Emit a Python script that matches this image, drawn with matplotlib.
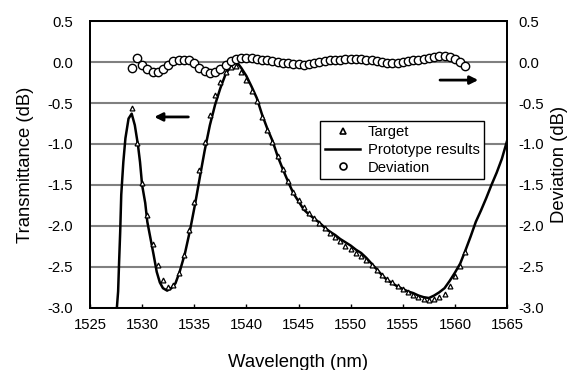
import matplotlib
matplotlib.use('Agg')
import matplotlib.pyplot as plt
from matplotlib.lines import Line2D

plt.rcParams['font.family'] = ['Liberation Sans', 'DejaVu Sans']

# Sampled wavelengths (nm) for target and deviation
wl = [1529.0 + 0.5 * i for i in range(65)]

target = [-0.56, -0.99, -1.48, -1.87, -2.22, -2.48, -2.66, -2.74, -2.72, -2.58,
          -2.36, -2.05, -1.71, -1.32, -0.98, -0.65, -0.40, -0.24, -0.12, -0.06,
          -0.05, -0.12, -0.22, -0.35, -0.48, -0.67, -0.83, -0.97, -1.15, -1.30,
          -1.45, -1.58, -1.68, -1.77, -1.84, -1.90, -1.96, -2.03, -2.09, -2.14,
          -2.19, -2.24, -2.28, -2.33, -2.37, -2.42, -2.48, -2.54, -2.60, -2.65,
          -2.69, -2.73, -2.77, -2.81, -2.84, -2.87, -2.89, -2.90, -2.89, -2.87,
          -2.83, -2.73, -2.61, -2.49, -2.32]

deviation = [-0.07, 0.05, -0.03, -0.09, -0.12, -0.12, -0.08, -0.03, 0.01, 0.03,
             0.03, 0.02, -0.01, -0.07, -0.11, -0.13, -0.12, -0.08, -0.03, 0.01,
             0.04, 0.05, 0.05, 0.05, 0.04, 0.03, 0.02, 0.01, 0.00, -0.01,
             -0.01, -0.02, -0.02, -0.03, -0.02, -0.01, 0.00, 0.01, 0.02, 0.03,
             0.03, 0.04, 0.04, 0.04, 0.04, 0.03, 0.02, 0.01, 0.00, -0.01,
             -0.01, -0.01, 0.00, 0.01, 0.02, 0.03, 0.04, 0.05, 0.06, 0.07,
             0.07, 0.06, 0.04, 0.00, -0.05]

# Prototype measured response
proto_x = [1527.55, 1527.7, 1527.8, 1527.9, 1528.0, 1528.2, 1528.4, 1528.7, 1529.0, 1529.3,
           1529.6, 1529.8, 1530.0, 1530.3, 1530.5, 1530.8, 1531.1, 1531.4, 1531.7, 1532.0,
           1532.4, 1532.8, 1533.2, 1533.6, 1534.1, 1534.6, 1535.1, 1535.6, 1536.0, 1536.5,
           1537.0, 1537.5, 1538.0, 1538.5, 1538.9, 1539.2, 1539.5, 1540.0, 1540.5, 1541.0,
           1541.5, 1542.0, 1542.5, 1543.0, 1543.5, 1544.0, 1544.5, 1545.0, 1545.5, 1546.0,
           1546.5, 1547.0, 1547.5, 1548.0, 1548.5, 1549.0, 1549.5, 1550.0, 1550.5, 1551.0,
           1551.5, 1552.0, 1552.5, 1553.0, 1553.5, 1554.0, 1554.5, 1555.0, 1555.5, 1556.0,
           1556.5, 1557.0, 1557.5, 1558.0, 1558.5, 1559.0, 1559.5, 1560.0, 1560.5, 1561.0,
           1561.5, 1562.0, 1562.5, 1563.0, 1563.5, 1564.0, 1564.5, 1565.0]
proto_y = [-3.05, -2.80, -2.42, -2.07, -1.62, -1.22, -0.93, -0.69, -0.63, -0.77,
           -1.01, -1.22, -1.50, -1.72, -1.95, -2.15, -2.35, -2.56, -2.69, -2.76,
           -2.79, -2.76, -2.70, -2.56, -2.34, -2.05, -1.72, -1.36, -1.08, -0.77,
           -0.52, -0.32, -0.15, -0.05, -0.01, -0.02, -0.07, -0.17, -0.30, -0.44,
           -0.64, -0.81, -0.96, -1.15, -1.31, -1.46, -1.60, -1.70, -1.80, -1.86,
           -1.91, -1.96, -2.02, -2.07, -2.11, -2.16, -2.20, -2.24, -2.29, -2.33,
           -2.39, -2.46, -2.53, -2.60, -2.66, -2.70, -2.74, -2.77, -2.80, -2.82,
           -2.85, -2.87, -2.88, -2.85, -2.81, -2.76, -2.67, -2.57, -2.46, -2.30,
           -2.13, -1.95, -1.81, -1.66, -1.50, -1.35, -1.18, -0.96]

fig = plt.figure(figsize=(5.73, 3.70), dpi=100)
ax = fig.add_axes([0.157, 0.168, 0.728, 0.775])
ax2 = ax.twinx()

ylim = (-3.0, 0.5)
yticks = [-3.0, -2.5, -2.0, -1.5, -1.0, -0.5, 0.0, 0.5]
for a in (ax, ax2):
    a.set_ylim(*ylim)
    a.set_yticks(yticks)
    a.set_yticklabels([f"{v:.1f}" for v in yticks])
    for s in a.spines.values():
        s.set_linewidth(1.3)

ax.set_xlim(1525, 1565)
ax.set_xticks(range(1525, 1570, 5))
ax.grid(axis='y', color='#808080', linewidth=1.5)
ax.set_axisbelow(True)

ax.tick_params(axis='x', direction='in', length=3, width=1, pad=7, labelsize=10.7)
ax.tick_params(axis='y', length=0, pad=12, labelsize=10.7)
ax2.tick_params(axis='y', length=0, pad=8, labelsize=10.7)

ax.plot(proto_x, proto_y, color='black', linewidth=1.8, zorder=3)
ax.plot(wl, target, linestyle='none', marker='^', markersize=3.5,
        markerfacecolor='white', markeredgecolor='black', markeredgewidth=0.9, zorder=4)
ax2.plot(wl, deviation, linestyle='none', marker='o', markersize=6,
         markerfacecolor='white', markeredgecolor='black', markeredgewidth=1.0, zorder=4)

# direction arrows
ax.annotate('', xy=(1530.9, -0.67), xytext=(1534.7, -0.67),
            arrowprops=dict(arrowstyle='-|>', color='black', lw=2, mutation_scale=12))
ax2.annotate('', xy=(1562.5, -0.22), xytext=(1558.3, -0.22),
             arrowprops=dict(arrowstyle='-|>', color='black', lw=2, mutation_scale=12))

ax.set_xlabel('Wavelength (nm)', fontsize=13.3, labelpad=16)
ax.set_ylabel('Transmittance (dB)', fontsize=13.3, labelpad=10)
ax2.set_ylabel('Deviation (dB)', fontsize=13.3, labelpad=5)

handles = [
    Line2D([], [], linestyle='none', marker='^', markersize=4, markerfacecolor='white',
           markeredgecolor='black', markeredgewidth=1.2),
    Line2D([], [], color='black', linewidth=1.8),
    Line2D([], [], linestyle='none', marker='o', markersize=5, markerfacecolor='white',
           markeredgecolor='black', markeredgewidth=1.2),
]
leg = ax2.legend(handles, ['Target', 'Prototype results', 'Deviation'],
                 loc='lower left', bbox_to_anchor=(0.552, 0.449, 0.393, 0.248),
                 mode='expand', fontsize=10.7, frameon=True, fancybox=False,
                 framealpha=1, edgecolor='black', borderaxespad=0,
                 handlelength=2.4, handletextpad=0.5, labelspacing=0.25,
                 borderpad=0.3)
leg.get_frame().set_linewidth(1.0)

fig.savefig('out.png', dpi=100)
